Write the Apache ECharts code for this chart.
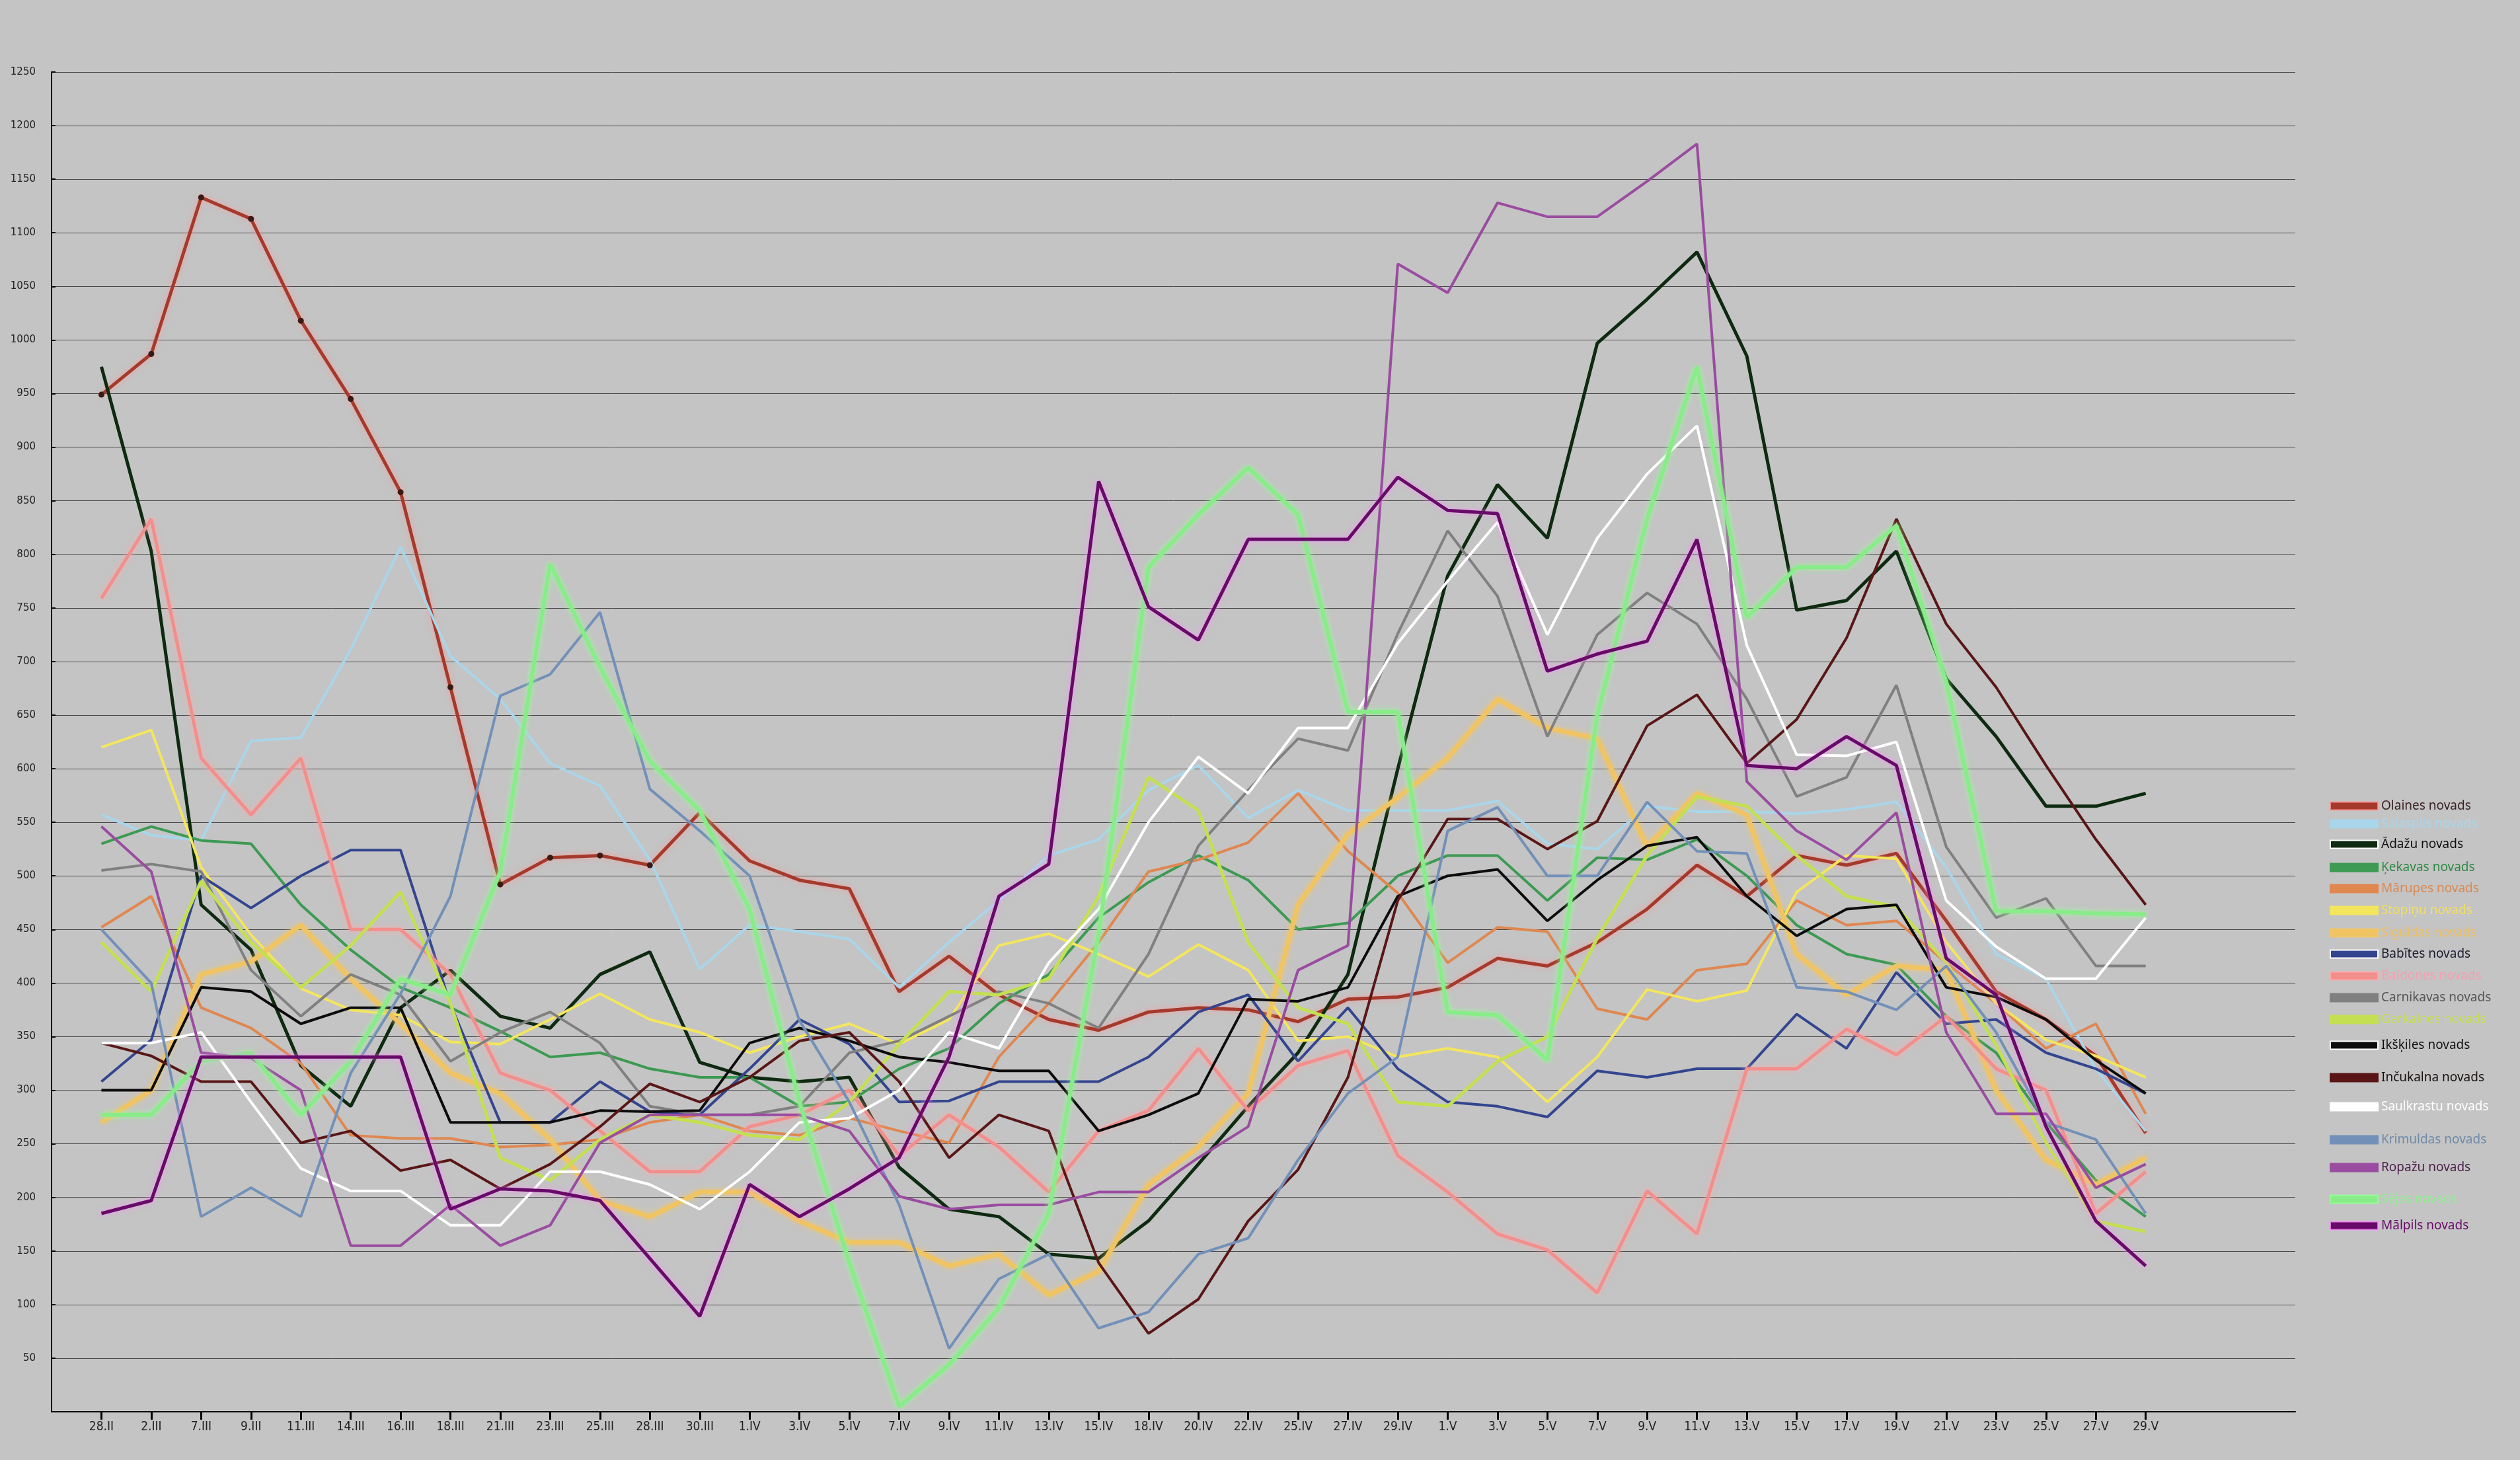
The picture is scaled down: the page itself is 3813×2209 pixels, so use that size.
<!DOCTYPE html>
<html>
<head>
<meta charset="utf-8">
<script src="https://cdn.jsdelivr.net/npm/echarts@6/dist/echarts.min.js"></script>
<style>
  html, body { margin: 0; padding: 0; background: #c4c4c4; }
  #chart { width: 3813px; height: 2209px; }
</style>
</head>
<body>
<div id="chart"></div>
<script>
// dates on the x axis
const categories = ['28.II', '2.III', '7.III', '9.III', '11.III', '14.III', '16.III', '18.III', '21.III', '23.III',
  '25.III', '28.III', '30.III', '1.IV', '3.IV', '5.IV', '7.IV', '9.IV', '11.IV', '13.IV', '15.IV', '18.IV', '20.IV',
  '22.IV', '25.IV', '27.IV', '29.IV', '1.V', '3.V', '5.V', '7.V', '9.V', '11.V', '13.V', '15.V', '17.V', '19.V',
  '21.V', '23.V', '25.V', '27.V', '29.V']

const olaines = [949, 987, 1133, 1113, 1018, 945, 858, 676, 492, 517, 519, 510, 559, 514, 496, 488, 392, 425, 389, 366, 356, 373, 377, 375, 364, 385, 387, 396, 423, 416, 438, 469, 510, 481, 519, 510, 521, 458, 392, 366, 332, 260]
const salaspils = [557, 538, 533, 626, 629, 711, 807, 705, 665, 605, 584, 515, 413, 454, 448, 441, 396, 438, 477, 519, 534, 580, 603, 554, 580, 561, 561, 561, 570, 530, 525, 565, 560, 560, 558, 562, 569, 508, 427, 404, 320, 262]
const adazu = [975, 803, 473, 431, 323, 285, 377, 412, 369, 358, 408, 429, 326, 312, 308, 312, 228, 189, 182, 147, 143, 178, 231, 285, 335, 408, 600, 780, 865, 815, 997, 1038, 1082, 985, 748, 757, 803, 684, 630, 565, 565, 577]
const kekavas = [530, 546, 533, 530, 473, 431, 396, 377, 355, 331, 335, 320, 312, 312, 285, 289, 320, 339, 381, 408, 461, 494, 519, 496, 450, 456, 500, 519, 519, 477, 517, 515, 534, 500, 454, 427, 417, 369, 335, 270, 216, 182]
const marupes = [452, 481, 377, 358, 325, 258, 255, 255, 247, 249, 254, 270, 277, 262, 258, 274, 262, 251, 331, 381, 438, 504, 515, 531, 577, 523, 484, 419, 452, 448, 376, 366, 412, 418, 477, 454, 458, 419, 381, 339, 362, 278]
const stopinu = [620, 636, 508, 445, 395, 375, 370, 345, 343, 366, 390, 366, 354, 335, 350, 362, 343, 366, 435, 446, 427, 406, 436, 412, 346, 350, 331, 339, 331, 289, 331, 394, 383, 393, 485, 519, 516, 438, 381, 347, 332, 312]
const siguldas = [270, 300, 408, 420, 454, 404, 362, 316, 297, 254, 197, 182, 205, 205, 178, 158, 158, 136, 147, 109, 131, 212, 247, 297, 473, 539, 573, 610, 665, 638, 628, 527, 577, 557, 427, 389, 416, 412, 300, 235, 212, 237]
const babites = [308, 347, 500, 470, 500, 524, 524, 380, 270, 270, 308, 280, 277, 320, 366, 343, 289, 290, 308, 308, 308, 331, 373, 389, 327, 377, 320, 289, 285, 275, 318, 312, 320, 320, 371, 339, 410, 362, 366, 335, 320, 297]
const baldones = [759, 833, 610, 557, 610, 450, 450, 408, 316, 300, 262, 224, 224, 266, 277, 300, 239, 277, 247, 205, 262, 281, 339, 281, 323, 337, 239, 205, 166, 151, 111, 206, 166, 320, 320, 357, 333, 369, 320, 300, 185, 224]
const carnikavas = [505, 511, 504, 412, 369, 408, 389, 327, 354, 373, 344, 285, 277, 277, 285, 335, 346, 369, 392, 381, 358, 427, 528, 580, 628, 617, 726, 822, 761, 630, 725, 764, 735, 665, 574, 592, 678, 527, 461, 479, 416, 416]
const garkalnes = [438, 392, 495, 438, 396, 435, 485, 381, 237, 216, 254, 277, 270, 258, 254, 289, 343, 392, 389, 404, 481, 592, 561, 438, 377, 362, 289, 285, 327, 350, 442, 519, 574, 565, 519, 481, 471, 419, 342, 251, 178, 168]
const ikskiles = [300, 300, 396, 392, 362, 377, 377, 270, 270, 270, 281, 280, 281, 344, 358, 346, 331, 326, 318, 318, 262, 277, 297, 385, 383, 396, 481, 500, 506, 458, 496, 528, 536, 481, 444, 469, 473, 396, 387, 366, 328, 297]
const incukalna = [344, 332, 308, 308, 251, 262, 225, 235, 208, 231, 266, 306, 289, 312, 346, 354, 308, 237, 277, 262, 139, 73, 105, 178, 226, 312, 477, 553, 553, 525, 551, 640, 669, 605, 646, 722, 833, 735, 676, 603, 534, 473]
const saulkrastu = [344, 344, 354, 289, 227, 206, 206, 174, 174, 224, 224, 212, 189, 224, 270, 274, 300, 354, 339, 419, 469, 550, 611, 577, 638, 638, 717, 775, 830, 725, 815, 875, 920, 715, 613, 612, 625, 477, 434, 404, 404, 461]
const krimuldas = [450, 400, 182, 209, 182, 316, 390, 481, 668, 688, 746, 581, 542, 500, 365, 289, 193, 59, 124, 147, 78, 93, 147, 162, 235, 297, 331, 542, 564, 500, 500, 569, 523, 521, 396, 392, 375, 416, 354, 270, 254, 185]
const ropazu = [546, 504, 335, 330, 300, 155, 155, 193, 155, 174, 251, 277, 277, 277, 277, 262, 201, 189, 193, 193, 205, 205, 237, 266, 412, 435, 1071, 1044, 1128, 1115, 1115, 1148, 1183, 588, 542, 515, 559, 354, 278, 278, 209, 231]
const sejas = [277, 277, 327, 335, 277, 327, 404, 389, 504, 791, 695, 607, 561, 469, 289, 139, 5, 44, 97, 185, 446, 788, 837, 881, 837, 653, 653, 373, 370, 328, 650, 833, 975, 741, 788, 788, 827, 681, 467, 467, 465, 464]
const malpils = [185, 197, 331, 331, 331, 331, 331, 189, 208, 206, 197, 143, 89, 212, 182, 208, 237, 331, 481, 511, 868, 751, 720, 814, 814, 814, 872, 841, 838, 691, 707, 719, 814, 603, 600, 630, 603, 423, 389, 266, 178, 136]

const yTicks = [50, 1250, 50] // min label, max, step

// padding categories so the first and last dates sit away from the axis ends
const xData = [''].concat(categories, ['', '', ''])
const pad = (list) => [null].concat(list, [null, null, null])

const lines = [
  { name: 'Olaines novads', data: olaines, color: '#a53a2c', width: 5, glow: 'rgba(255,150,150,0.8)', text: '#3a2222', legendY: 1218 },
  { name: 'Salaspils novads', data: salaspils, color: '#a9d6ea', width: 4, text: '#a9d6ea', legendY: 1245 },
  { name: 'Ādažu novads', data: adazu, color: '#0e2a10', width: 5, text: '#111111', border: '#ffffff', legendY: 1276 },
  { name: 'Ķekavas novads', data: kekavas, color: '#3c9a52', width: 4, text: '#2f8a45', legendY: 1311 },
  { name: 'Mārupes novads', data: marupes, color: '#e0874f', width: 4, text: '#d98a55', legendY: 1343 },
  { name: 'Stopiņu novads', data: stopinu, color: '#f4e65c', width: 4, text: '#f0e060', legendY: 1376 },
  { name: 'Siguldas novads', data: siguldas, color: '#f0c462', width: 7, glow: 'rgba(245,200,100,0.8)', text: '#eec060', legendY: 1410 },
  { name: 'Babītes novads', data: babites, color: '#34458f', width: 4, text: '#1a1a30', border: '#ffffff', legendY: 1442 },
  { name: 'Baldones novads', data: baldones, color: '#f28f8c', width: 5, glow: 'rgba(255,170,170,0.9)', text: '#f4a0b0', legendY: 1475 },
  { name: 'Carnikavas novads', data: carnikavas, color: '#808080', width: 4, text: '#555555', legendY: 1508 },
  { name: 'Garkalnes novads', data: garkalnes, color: '#c4e052', width: 5, text: '#c4e052', legendY: 1541 },
  { name: 'Ikšķiles novads', data: ikskiles, color: '#0c0c0c', width: 4, text: '#111111', border: '#ffffff', legendY: 1580 },
  { name: 'Inčukalna novads', data: incukalna, color: '#5a1616', width: 4, text: '#1a1010', legendY: 1629 },
  { name: 'Saulkrastu novads', data: saulkrastu, color: '#ffffff', width: 4, text: '#ffffff', legendY: 1673 },
  { name: 'Krimuldas novads', data: krimuldas, color: '#7290b8', width: 4, text: '#6f8aa8', legendY: 1723 },
  { name: 'Ropažu novads', data: ropazu, color: '#9a4ca0', width: 4, text: '#4a1e4a', legendY: 1765 },
  { name: 'Sējas novads', data: sejas, color: '#88ec88', width: 6, glow: 'rgba(150,255,150,0.9)', text: '#90f090', legendY: 1813 },
  { name: 'Mālpils novads', data: malpils, color: '#680a68', width: 5, glow: 'rgba(255,140,255,0.8)', text: '#6a0a6a', legendY: 1853 }
]

const chart = echarts.init(document.getElementById('chart'), null, { renderer: 'canvas' })

const series = lines.map((s, k) => ({
  type: 'line',
  name: s.name,
  data: pad(s.data).map((v, i) => (k === 0 && i >= 1 && i <= 12)
    ? { value: v, symbolSize: 9, itemStyle: { color: '#3a1a14' } }
    : v),
  connectNulls: false,
  showSymbol: k === 0,
  symbol: 'circle',
  symbolSize: 0,
  itemStyle: { color: s.color },
  lineStyle: {
    color: s.color,
    width: s.width,
    shadowBlur: s.glow ? 8 : 0,
    shadowColor: s.glow || 'transparent'
  },
  emphasis: { disabled: true },
  z: 2
}))

const legends = lines.map(s => ({
  data: [{
    name: s.name,
    icon: 'rect',
    itemStyle: { color: s.color, borderColor: s.border || s.glow || s.color, borderWidth: 2 }
  }],
  left: 3520,
  top: s.legendY - 13,
  itemWidth: 72,
  itemHeight: 12,
  selectedMode: false,
  textStyle: { color: s.text, fontSize: 19, fontFamily: 'Noto Sans' }
}))

chart.setOption({
  backgroundColor: '#c4c4c4',
  animation: false,
  grid: { left: 78, right: 340, top: 109, bottom: 73, containLabel: false },
  legend: legends,
  xAxis: {
    type: 'category',
    data: xData,
    boundaryGap: false,
    axisLine: { lineStyle: { color: '#000000', width: 2 } },
    axisTick: {
      length: 12,
      interval: (index, value) => value !== '',
      lineStyle: { color: '#000000', width: 3 }
    },
    axisLabel: {
      interval: 0,
      margin: 14,
      color: '#222222',
      fontSize: 19,
      fontFamily: 'Liberation Sans Narrow, DejaVu Sans Condensed, sans-serif'
    },
    splitLine: { show: false }
  },
  yAxis: {
    type: 'value',
    min: 0,
    max: yTicks[1],
    interval: yTicks[2],
    axisLine: { show: true, lineStyle: { color: '#000000', width: 2 } },
    axisTick: { show: true, length: 6, inside: true, lineStyle: { color: '#000000', width: 2 } },
    axisLabel: {
      margin: 24,
      color: '#222222',
      fontSize: 15,
      fontFamily: 'DejaVu Sans',
      formatter: v => (v >= yTicks[0] ? String(v) : '')
    },
    splitLine: { show: true, lineStyle: { color: '#4a4a4a', width: 1 } }
  },
  series
})
</script>
</body>
</html>
